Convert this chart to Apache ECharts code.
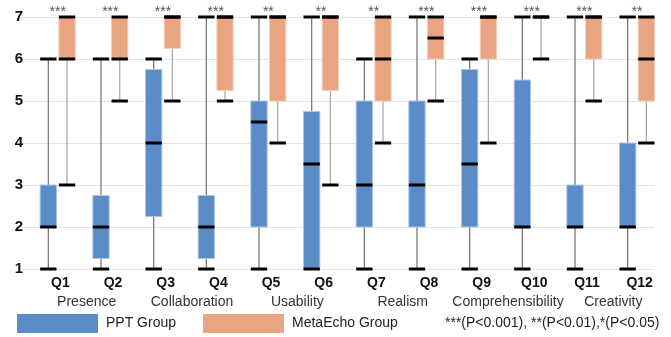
<!DOCTYPE html>
<html>
<head>
<meta charset="utf-8">
<script src="https://cdn.jsdelivr.net/npm/echarts@6/dist/echarts.min.js"></script>
<style>
html,body{margin:0;padding:0;background:#fff;}
#chart{width:671px;height:337px;}
</style>
</head>
<body>
<div id="chart"></div>
<script>
// ---- data ----
const categories = ['Q1','Q2','Q3','Q4','Q5','Q6','Q7','Q8','Q9','Q10','Q11','Q12'];
const groupNames = ['Presence','Collaboration','Usability','Realism','Comprehensibility','Creativity'];
const significance = ['***','***','***','***','**','**','**','***','***','***','***','**'];
const yTicks = [1,2,3,4,5,6,7];
// [min, Q1, median, Q3, max]
const pptGroup = [
  [1, 2,    2,   3,    6],
  [1, 1.25, 2,   2.75, 6],
  [1, 2.25, 4,   5.75, 6],
  [1, 1.25, 2,   2.75, 7],
  [1, 2,    4.5, 5,    7],
  [1, 1,    3.5, 4.75, 7],
  [1, 2,    3,   5,    6],
  [1, 2,    3,   5,    7],
  [1, 2,    3.5, 5.75, 6],
  [1, 2,    2,   5.5,  7],
  [1, 2,    2,   3,    7],
  [1, 2,    2,   4,    7]
];
const metaEchoGroup = [
  [3, 6,    6,   7, 7],
  [5, 6,    6,   7, 7],
  [5, 6.25, 7,   7, 7],
  [5, 5.25, 7,   7, 7],
  [4, 5,    7,   7, 7],
  [3, 5.25, 7,   7, 7],
  [4, 5,    6,   7, 7],
  [5, 6,    6.5, 7, 7],
  [4, 6,    7,   7, 7],
  [6, 7,    7,   7, 7],
  [5, 6,    7,   7, 7],
  [4, 5,    6,   7, 7]
];
const seriesNames = ['PPT Group', 'MetaEcho Group'];
const noteText = '***(P<0.001), **(P<0.01),*(P<0.05)';

// ---- style ----
const FONT = '"Liberation Sans", Arial, sans-serif';
const PPT_COLOR = '#5b8cc8';
const PPT_BORDER = '#a9c5e8';
const META_COLOR = '#e9a582';
const META_BORDER = '#f6cfb9';

function makeBoxRenderer(offsetFrac, fill, border, whiskerColor) {
  return function (params, api) {
    const idx = api.value(0);
    const band = api.size([1, 0])[0];
    const cx = api.coord([idx, 1])[0] + band * offsetFrac;
    const w = band * 0.31;
    const yMin = api.coord([idx, api.value(1)])[1];
    const yQ1 = api.coord([idx, api.value(2)])[1];
    const yMed = api.coord([idx, api.value(3)])[1];
    const yQ3 = api.coord([idx, api.value(4)])[1];
    const yMax = api.coord([idx, api.value(5)])[1];
    const black = {stroke: '#000', lineWidth: 3};
    return {
      type: 'group',
      children: [
        {type: 'line', shape: {x1: cx, y1: yMin, x2: cx, y2: yMax}, style: {stroke: whiskerColor, lineWidth: 1.3}},
        {type: 'rect', shape: {x: cx - w / 2, y: yQ3, width: w, height: yQ1 - yQ3},
          style: {fill: fill, stroke: border, lineWidth: 1}},
        {type: 'line', shape: {x1: cx - w / 2, y1: yMed, x2: cx + w / 2, y2: yMed}, style: black},
        {type: 'line', shape: {x1: cx - w / 2, y1: yMin, x2: cx + w / 2, y2: yMin}, style: black},
        {type: 'line', shape: {x1: cx - w / 2, y1: yMax, x2: cx + w / 2, y2: yMax}, style: black}
      ]
    };
  };
}

const chart = echarts.init(document.getElementById('chart'), null, {renderer: 'canvas'});
const axisLabelBase = {fontFamily: FONT, fontSize: 14, padding: [0, 0, 0, 24], interval: 0, hideOverlap: false};

const option = {
  animation: false,
  backgroundColor: '#fff',
  textStyle: {fontFamily: FONT},
  grid: {left: 22, right: 17, top: 17, bottom: 68},
  legend: {
    left: 17, top: 314, padding: 0,
    itemWidth: 81, itemHeight: 19, itemGap: 27,
    textStyle: {fontFamily: FONT, fontSize: 14, color: '#222', padding: [0, 0, 0, 3]},
    data: [
      {name: seriesNames[0], icon: 'rect', itemStyle: {color: PPT_COLOR}},
      {name: seriesNames[1], icon: 'rect', itemStyle: {color: META_COLOR}}
    ]
  },
  xAxis: [
    {
      type: 'category', data: categories,
      axisLine: {show: false}, axisTick: {show: false}, splitLine: {show: false},
      axisLabel: Object.assign({}, axisLabelBase, {margin: 7, fontWeight: 'bold', color: '#111'})
    },
    {
      type: 'category', data: groupNames, position: 'bottom', offset: 19,
      axisLine: {show: false}, axisTick: {show: false}, splitLine: {show: false},
      axisLabel: Object.assign({}, axisLabelBase, {margin: 7, color: '#333'})
    }
  ],
  yAxis: {
    type: 'value', min: yTicks[0], max: yTicks[yTicks.length - 1], interval: 1,
    axisLine: {show: false}, axisTick: {show: false},
    splitLine: {lineStyle: {color: '#e3e3e3', width: 1}},
    axisLabel: {fontFamily: FONT, fontSize: 15, fontWeight: 'bold', color: '#111', margin: -1, padding: [0, 0, 7, 0]}
  },
  series: [
    {
      name: seriesNames[0], type: 'custom', xAxisIndex: 0,
      itemStyle: {color: PPT_COLOR},
      encode: {x: 0, y: [1, 2, 3, 4, 5]},
      renderItem: makeBoxRenderer(0, PPT_COLOR, PPT_BORDER, '#7a7a7a'),
      data: pptGroup.map((r, i) => [i].concat(r))
    },
    {
      name: seriesNames[1], type: 'custom', xAxisIndex: 0,
      itemStyle: {color: META_COLOR},
      encode: {x: 0, y: [1, 2, 3, 4, 5]},
      renderItem: makeBoxRenderer(0.355, META_COLOR, META_BORDER, '#ababab'),
      data: metaEchoGroup.map((r, i) => [i].concat(r))
    },
    {
      name: 'sig', type: 'custom', xAxisIndex: 0, silent: true,
      encode: {x: 0, y: 1},
      renderItem: function (params, api) {
        const idx = api.value(0);
        const band = api.size([1, 0])[0];
        const p = api.coord([idx, 7]);
        return {
          type: 'text',
          style: {
            x: p[0] + band * 0.1775, y: p[1] - 5,
            text: significance[idx],
            fill: '#555', font: '14px ' + FONT,
            align: 'center', verticalAlign: 'middle'
          }
        };
      },
      data: significance.map((s, i) => [i, 7])
    }
  ],
  graphic: [
    {
      type: 'text', left: 445, top: 316,
      style: {text: noteText, fill: '#222', font: '14px ' + FONT}
    }
  ]
};
chart.setOption(option);
</script>
</body>
</html>
